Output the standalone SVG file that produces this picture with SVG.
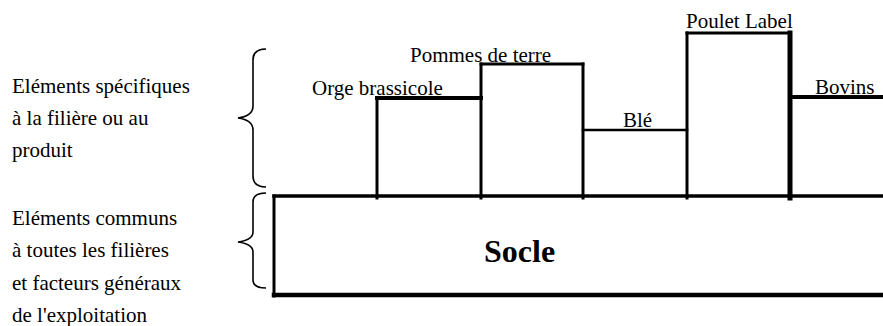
<svg xmlns="http://www.w3.org/2000/svg" width="883" height="326" viewBox="0 0 883 326">
<style>
.l{stroke:#000;fill:none;stroke-linecap:square}
.br{stroke:#000;fill:none;stroke-width:1.6}
</style>
<rect width="883" height="326" fill="#fff"/>
<g id="labels-left" font-family="Liberation Serif, Times New Roman, serif" font-size="21" fill="#000">
<text x="12" y="93">Eléments spécifiques</text>
<text x="12" y="125">à la filière ou au</text>
<text x="12" y="157">produit</text>
<text x="12" y="225">Eléments communs</text>
<text x="12" y="257">à toutes les filières</text>
<text x="12" y="290">et facteurs généraux</text>
<text x="12" y="322">de l'exploitation</text>
</g>
<g id="braces">
<path class="br" d="M266,49 Q253,49 253,60 L253,106 Q253,116 238,118 Q253,120 253,130 L253,176 Q253,187 266,187"/>
<path class="br" d="M266,193 Q253,193 253,202 L253,232 Q253,240 238,242 Q253,244 253,252 L253,280 Q253,288 266,288"/>
</g>
<g id="socle">
<line class="l" x1="274" y1="196" x2="883" y2="196" stroke-width="3.5"/>
<line class="l" x1="274" y1="196" x2="274" y2="296" stroke-width="3"/>
<line class="l" x1="274" y1="295" x2="883" y2="295" stroke-width="4.5"/>
<text x="484" y="262" font-family="Liberation Serif, Times New Roman, serif" font-size="32" font-weight="bold">Socle</text>
</g>
<g id="bars" font-family="Liberation Serif, Times New Roman, serif" font-size="21" fill="#000">
<g id="orge">
<line class="l" x1="377" y1="98" x2="377" y2="198" stroke-width="3"/>
<line class="l" x1="377" y1="98" x2="481" y2="98" stroke-width="4"/>
<text x="312" y="95">Orge brassicole</text>
</g>
<g id="pommes">
<line class="l" x1="481" y1="64" x2="481" y2="198" stroke-width="3"/>
<line class="l" x1="481" y1="64" x2="583" y2="64" stroke-width="2.8"/>
<line class="l" x1="583" y1="64" x2="583" y2="198" stroke-width="3"/>
<text x="410" y="62">Pommes de terre</text>
</g>
<g id="ble">
<line class="l" x1="583" y1="130" x2="687" y2="130" stroke-width="2.5"/>
<text x="623" y="127">Blé</text>
</g>
<g id="poulet">
<line class="l" x1="687" y1="33" x2="687" y2="198" stroke-width="3"/>
<line class="l" x1="687" y1="33" x2="790" y2="33" stroke-width="3"/>
<line class="l" x1="790" y1="33" x2="790" y2="198" stroke-width="5"/>
<text x="686" y="28">Poulet Label</text>
</g>
<g id="bovins">
<line class="l" x1="790" y1="97" x2="883" y2="97" stroke-width="4"/>
<text x="815" y="94">Bovins</text>
</g>
</g>
</svg>
